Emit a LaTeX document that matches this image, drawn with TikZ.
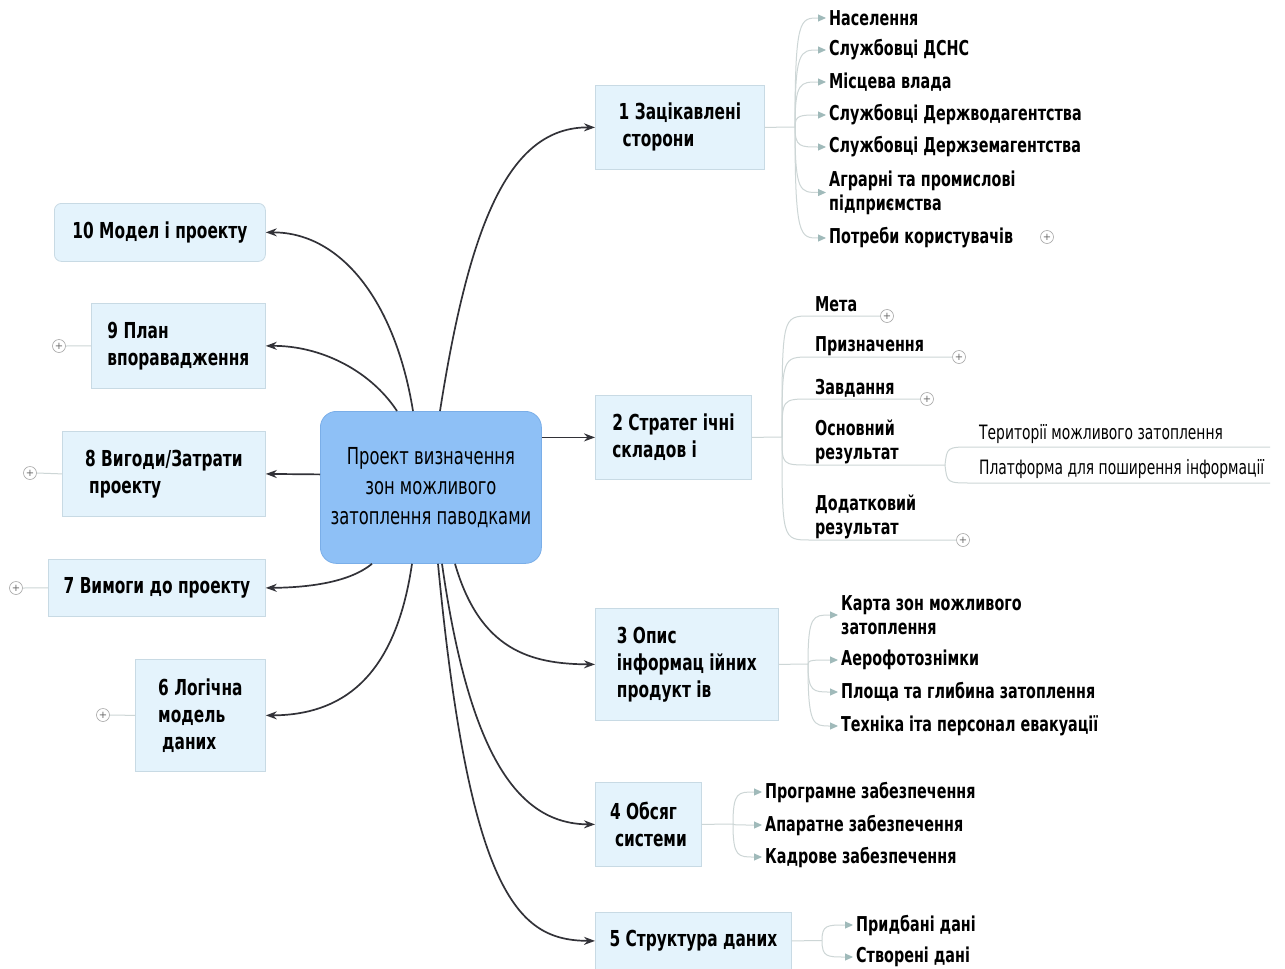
\documentclass[tikz,border=0pt]{standalone}
\usepackage{fontspec}
\usetikzlibrary{arrows.meta}
\newfontfamily\cf{DejaVu Sans}[FakeStretch=0.7]
\newcommand\topicfont{\cf\bfseries\fontsize{22}{27}\selectfont}
\newcommand\itemfont{\cf\bfseries\fontsize{20.5}{24}\selectfont}
\newcommand\mainfont{\cf\fontsize{23.4}{30}\selectfont}
\newcommand\leaffont{\cf\fontsize{19.8}{20}\selectfont}
\definecolor{topicbg}{RGB}{228,243,252}
\definecolor{topicbd}{RGB}{200,218,228}
\definecolor{mainbg}{RGB}{142,192,246}
\definecolor{mainbd}{RGB}{122,174,232}
\definecolor{edgec}{RGB}{50,50,56}
\definecolor{subc}{RGB}{205,214,214}
\definecolor{tipc}{RGB}{160,186,186}
\begin{document}
\begin{tikzpicture}[x=1pt,y=-1pt,
  topic/.style={draw=topicbd, fill=topicbg, line width=0.8pt, anchor=north west, align=left, inner sep=0pt, font=\topicfont},
  mainnode/.style={draw=mainbd, fill=mainbg, line width=0.8pt, rounded corners=16pt, anchor=north west, align=center, inner sep=0pt, font=\mainfont, minimum width=221pt, minimum height=152pt},
  item/.style={anchor=west, align=left, inner xsep=3pt, inner ysep=0pt, font=\itemfont},
  leaf/.style={anchor=west, align=left, inner xsep=0pt, inner ysep=0pt, font=\leaffont},
  mainedge/.style={draw=edgec, line width=1.7pt, -{Stealth[length=11pt,width=8pt]}},
  subarrow/.style={draw=subc, line width=1pt, -{Triangle[length=8pt,width=7pt,color=tipc]}},
  subline/.style={draw=subc, line width=1pt},
  plus/.style={circle, draw=gray!70, fill=white, line width=0.6pt, minimum size=13pt, inner sep=0pt, font={\fontspec{DejaVu Sans}\fontsize{10}{10}\selectfont}, text=gray!80!black}
]
\useasboundingbox (0,0) rectangle (1285,969);
\fill[white] (0,0) rectangle (1285,969);

% central node
\node[mainnode] (c) at (320,411) {Проект визначення\\зон можливого\\затоплення паводками};

% right topics
\node[topic, minimum width=169pt, minimum height=84pt] (n1) at (595,85) {1 Зацікавлені\\\hspace{4pt}сторони};
\node[topic, minimum width=156pt, minimum height=84pt] (n2) at (595,395) {2 Стратег ічні\\складов і};
\node[topic, minimum width=183pt, minimum height=112pt] (n3) at (595,608) {3 Опис\\інформац ійних\\продукт ів};
\node[topic, minimum width=106pt, minimum height=84pt] (n4) at (595,782) {4 Обсяг\\\hspace{5pt}системи};
\node[topic, minimum width=196pt, minimum height=57pt] (n5) at (595,912) {5 Структура даних};

% left topics
\node[topic, rounded corners=7pt, minimum width=211pt, minimum height=58pt] (n10) at (54,203) {10 Модел і проекту};
\node[topic, minimum width=174pt, minimum height=85pt] (n9) at (91,303) {9 План\\впоравадження};
\node[topic, minimum width=203pt, minimum height=85pt] (n8) at (62,431) {8 Вигоди/Затрати\\\hspace{4pt}проекту};
\node[topic, minimum width=217pt, minimum height=57pt] (n7) at (48,559) {7 Вимоги до проекту};
\node[topic, minimum width=130pt, minimum height=112pt] (n6) at (135,659) {6 Логічна\\модель\\\hspace{4pt}даних};

% main connectors
\draw[mainedge] ([xshift=120pt]c.north west) .. controls (470,220) and (510,127) .. (n1.west);
\draw[mainedge] ([yshift=50pt]c.east) -- (n2.west);
\draw[mainedge] ([xshift=135pt]c.south west) .. controls (480,650) and (530,664) .. (n3.west);
\draw[mainedge] ([xshift=122pt]c.south west) .. controls (470,760) and (520,824) .. (n4.west);
\draw[mainedge] ([xshift=118pt]c.south west) .. controls (470,900) and (520,940.5) .. (n5.west);
\draw[mainedge] ([xshift=93pt]c.north west) .. controls (395,300) and (340,232) .. (n10.east);
\draw[mainedge] ([xshift=77pt]c.north west) .. controls (370,370) and (320,345.5) .. (n9.east);
\draw[mainedge] ([yshift=13pt]c.west) -- (n8.east);
\draw[mainedge] ([xshift=52pt]c.south west) .. controls (350,582) and (310,587.5) .. (n7.east);
\draw[mainedge] ([xshift=92pt]c.south west) .. controls (395,680) and (340,715) .. (n6.east);

% left plus signs
\node[plus] (p9) at (59,346) {+};
\node[plus] (p8) at (30,473) {+};
\node[plus] (p7) at (16,588) {+};
\node[plus] (p6) at (103,715) {+};
\draw[subline] (p9.east) -- (n9.west);
\draw[subline] (p8.east) -- (n8.west);
\draw[subline] (p7.east) -- (n7.west);
\draw[subline] (p6.east) -- (n6.west);

% subtree 1
\coordinate (j1) at (795,127);
\draw[subline] (n1.east) -- (j1);
\node[item] (a1) at (826,18) {Населення};
\node[item] (a2) at (826,50) {Службовці ДСНС};
\node[item] (a3) at (826,82) {Місцева влада};
\node[item] (a4) at (826,115) {Службовці Держводагентства};
\node[item] (a5) at (826,147) {Службовці Держземагентства};
\node[item] (a6) at (826,192.5) {Аграрні та промислові\\підприємства};
\node[item] (a7) at (826,238) {Потреби користувачів};
\node[plus] (pa7) at (1047,237) {+};
\foreach \n/\y in {a1/18,a2/50,a3/82,a4/115,a5/147,a6/192.5,a7/238}
  \draw[subarrow] (j1) .. controls (795,\y) and (800,\y) .. (\n.west);

% subtree 2
\coordinate (j2) at (782,437);
\draw[subline] (n2.east) -- (j2);
\node[item] (b1) at (812,304) {Мета};
\node[item] (b2) at (812,346) {Призначення};
\node[item] (b3) at (812,388) {Завдання};
\node[item] (b4) at (812,441.5) {Основний\\результат};
\node[item] (b5) at (812,516.5) {Додатковий\\результат};
\node[plus] (q1) at (887,316) {+};
\node[plus] (q2) at (959,357) {+};
\node[plus] (q3) at (927,399) {+};
\node[plus] (q5) at (963,540) {+};
\coordinate (j24) at (945,465);
\draw[subline] (j2) .. controls (782,316) .. (810,316) -- (q1.west);
\draw[subline] (j2) .. controls (782,357) .. (810,357) -- (q2.west);
\draw[subline] (j2) .. controls (782,399) .. (810,399) -- (q3.west);
\draw[subline] (j2) .. controls (782,465) .. (810,465) -- (j24);
\draw[subline] (j2) .. controls (782,540) .. (810,540) -- (q5.west);
\node[leaf] (l1) at (979,434) {Території можливого затоплення};
\node[leaf] (l2) at (979,469) {Платформа для поширення інформації};
\coordinate (le1) at (1270,447);
\coordinate (le2) at (1270,483);
\draw[subline] (j24) .. controls (947,447) .. (972,447) -- (le1);
\draw[subline] (j24) .. controls (947,483) .. (972,483) -- (le2);

% subtree 3
\coordinate (j3) at (808,664);
\draw[subline] (n3.east) -- (j3);
\node[item] (d1) at (838,615) {Карта зон можливого\\затоплення};
\node[item] (d2) at (838,660) {Аерофотознімки};
\node[item] (d3) at (838,692) {Площа та глибина затоплення};
\node[item] (d4) at (838,726) {Техніка іта персонал евакуації};
\foreach \n/\y in {d1/615,d2/660,d3/692,d4/726}
  \draw[subarrow] (j3) .. controls (808,\y) and (813,\y) .. (\n.west);

% subtree 4
\coordinate (j4) at (733,824);
\draw[subline] (n4.east) -- (j4);
\node[item] (e1) at (762,792) {Програмне забезпечення};
\node[item] (e2) at (762,825) {Апаратне забезпечення};
\node[item] (e3) at (762,857) {Кадрове забезпечення};
\foreach \n/\y in {e1/792,e2/825,e3/857}
  \draw[subarrow] (j4) .. controls (733,\y) and (738,\y) .. (\n.west);

% subtree 5
\coordinate (j5) at (822,940.5);
\draw[subline] (n5.east) -- (j5);
\node[item] (f1) at (853,925) {Придбані дані};
\node[item] (f2) at (853,957) {Створені дані};
\foreach \n/\y in {f1/925,f2/957}
  \draw[subarrow] (j5) .. controls (822,\y) and (827,\y) .. (\n.west);
\end{tikzpicture}
\end{document}
